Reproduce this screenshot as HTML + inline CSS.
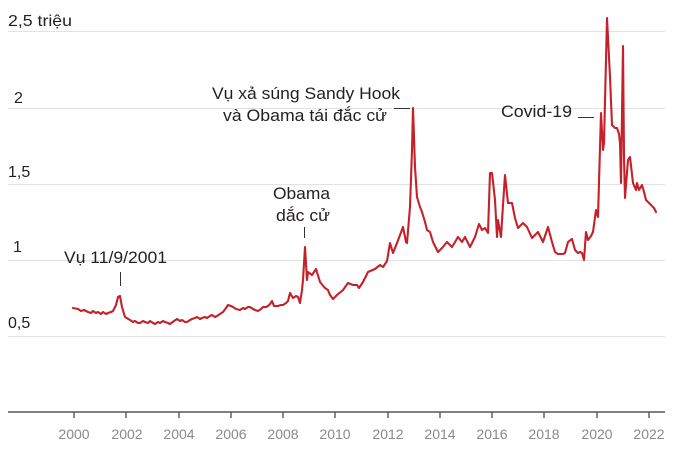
<!DOCTYPE html>
<html>
<head>
<meta charset="utf-8">
<style>
  html, body { margin:0; padding:0; background:#fff; }
  svg { display:block; }
  text { font-family: "Liberation Sans", "Noto Sans CJK SC", sans-serif; }
</style>
</head>
<body>
<svg width="680" height="450" viewBox="0 0 680 450" xmlns="http://www.w3.org/2000/svg">
  <!-- gridlines -->
  <g stroke="#e2e2e2" stroke-width="1">
    <line x1="8" y1="31.5" x2="665" y2="31.5"/>
    <line x1="8" y1="108.5" x2="665" y2="108.5"/>
    <line x1="8" y1="184.5" x2="665" y2="184.5"/>
    <line x1="8" y1="260.5" x2="665" y2="260.5"/>
    <line x1="8" y1="336.5" x2="665" y2="336.5"/>
  </g>
  <!-- y labels -->
  <g fill="#231f20" font-size="16">
    <text x="8" y="26" textLength="64" lengthAdjust="spacingAndGlyphs">2,5 triệu</text>
    <text x="14" y="103">2</text>
    <text x="8" y="177">1,5</text>
    <text x="13" y="252">1</text>
    <text x="8" y="328">0,5</text>
  </g>
  <!-- x axis -->
  <line x1="8" y1="412" x2="665" y2="412" stroke="#555" stroke-width="1.6"/>
  <g stroke="#555" stroke-width="1.4">
    <line x1="74" y1="412" x2="74" y2="418"/>
    <line x1="126" y1="412" x2="126" y2="418"/>
    <line x1="179" y1="412" x2="179" y2="418"/>
    <line x1="231" y1="412" x2="231" y2="418"/>
    <line x1="283" y1="412" x2="283" y2="418"/>
    <line x1="335" y1="412" x2="335" y2="418"/>
    <line x1="388" y1="412" x2="388" y2="418"/>
    <line x1="440" y1="412" x2="440" y2="418"/>
    <line x1="492" y1="412" x2="492" y2="418"/>
    <line x1="544" y1="412" x2="544" y2="418"/>
    <line x1="597" y1="412" x2="597" y2="418"/>
    <line x1="649" y1="412" x2="649" y2="418"/>
  </g>
  <g fill="#8a8a8a" font-size="14" text-anchor="middle">
    <text x="74" y="439">2000</text>
    <text x="127" y="439">2002</text>
    <text x="179" y="439">2004</text>
    <text x="231" y="439">2006</text>
    <text x="283" y="439">2008</text>
    <text x="335" y="439">2010</text>
    <text x="388" y="439">2012</text>
    <text x="440" y="439">2014</text>
    <text x="492" y="439">2016</text>
    <text x="544" y="439">2018</text>
    <text x="597" y="439">2020</text>
    <text x="649" y="439">2022</text>
  </g>
  <!-- series -->
  <polyline fill="none" stroke="#c4212b" stroke-width="2.1" stroke-linejoin="round" stroke-linecap="round"
    points="73,308 78,309 81,311 84,310 88,312 91,313 93,311 96,313 98,312 101,314 103,312 106,314 108,313 111,312 113,311 116,305 118,297 120,296 122,307 125,317 130,320 133,322 135,321 138,323 140,323 143,321 145,322 148,323 150,321 153,323 155,324 158,322 160,323 163,321 165,322 168,323 170,324 174,321 177,319 180,321 182,320 185,322 187,322 190,320 192,319 195,318 197,317 200,319 202,318 205,317 207,318 210,316 212,315 215,317 217,316 220,314 223,312 226,308 228,305 231,306 233,307 236,309 240,310 243,308 245,309 248,307 250,307 253,309 255,310 258,311 261,309 263,307 266,307 268,306 270,304 272,301 274,306 278,306 281,305 283,305 286,303 288,301 290,293 293,298 296,296 298,297 300,303 302,290 303,280 305,247 307,280 308,272 312,275 316,269 320,282 325,288 328,290 330,295 333,299 337,295 343,290 348,283 353,285 357,285 359,288 363,282 368,272 375,269 380,265 383,267 387,261 390,243 393,253 397,243 400,235 403,227 406,242 407,243 410,207 412,150 413,108 415,167 417,197 420,207 422,212 425,222 427,230 430,232 433,242 438,252 442,248 447,242 452,247 458,237 462,242 465,237 470,247 475,237 479,224 482,230 485,228 488,233 490,173 492,173 495,200 497,237 498,220 501,237 503,205 505,175 508,203 512,203 515,218 518,228 523,223 527,227 532,238 538,232 543,242 548,227 552,242 555,252 558,254 560,254 563,254 565,253 568,242 572,239 575,250 578,253 580,252 582,253 584,260 586,232 588,240 591,236 593,232 596,210 598,217 601,113 603,150 604,143 607,18 610,77 612,125 615,128 617,128 619,134 620,143 621,183 623,46 624,157 625,198 628,160 630,157 633,183 636,190 637,183 639,190 642,185 644,192 646,200 649,203 651,205 654,208 656,212"/>
  <!-- annotations -->
  <g fill="#231f20" font-size="17">
    <text x="64" y="263" textLength="103" lengthAdjust="spacingAndGlyphs">Vụ 11/9/2001</text>
    <text x="273" y="199" textLength="57" lengthAdjust="spacingAndGlyphs">Obama</text>
    <text x="276" y="221" textLength="54" lengthAdjust="spacingAndGlyphs">dắc cử</text>
    <text x="212" y="99" textLength="188" lengthAdjust="spacingAndGlyphs">Vụ xả súng Sandy Hook</text>
    <text x="223" y="121" textLength="164" lengthAdjust="spacingAndGlyphs">và Obama tái đắc cử</text>
    <text x="501" y="117" textLength="71" lengthAdjust="spacingAndGlyphs">Covid-19</text>
  </g>
  <g stroke="#333" stroke-width="1">
    <line x1="120.5" y1="272" x2="120.5" y2="286"/>
    <line x1="304.5" y1="227" x2="304.5" y2="238"/>
    <line x1="394" y1="108.5" x2="410" y2="108.5"/>
    <line x1="578" y1="117.5" x2="594" y2="117.5"/>
  </g>
</svg>
</body>
</html>
